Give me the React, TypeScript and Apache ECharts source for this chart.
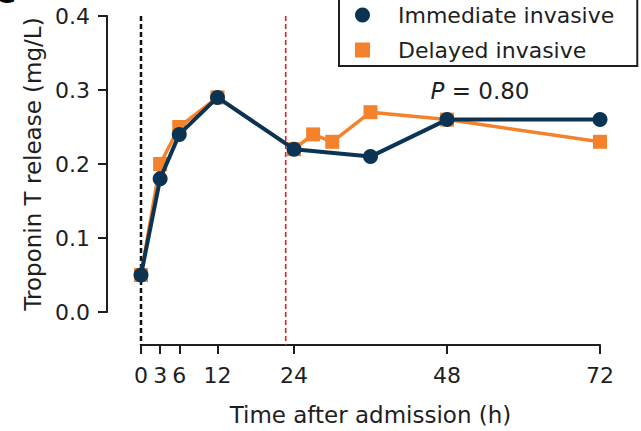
import React, { useEffect, useRef } from 'react';
import * as echarts from 'echarts';

// Sampling times (h) and troponin T (mg/L) per strategy
const immediateHours = [0, 3, 6, 12, 24, 36, 48, 72];
const immediateValues = [0.05, 0.18, 0.24, 0.29, 0.22, 0.21, 0.26, 0.26];
const delayedHours = [0, 3, 6, 12, 24, 27, 30, 36, 48, 72];
const delayedValues = [0.05, 0.2, 0.25, 0.29, 0.22, 0.24, 0.23, 0.27, 0.26, 0.23];

const xTicks = [0, 3, 6, 12, 24, 48, 72];
const yMin = 0;
const yMax = 0.4;
const yStep = 0.1;

const admissionHour = 0;
const delayedProcedureHour = 22.7;
const pValueText = '{i|P} = 0.80';

const NAVY = '#0b3454';
const ORANGE = '#f4822c';
const INK = '#1e1e1e';
const FONT = 'DejaVu Sans';

export default function App() {
  const ref = useRef<HTMLDivElement>(null);

  useEffect(() => {
    const chart = echarts.init(ref.current!, null, { renderer: 'svg' });
    const xAxisOffset = 33;

    chart.setOption({
      animation: false,
      grid: { left: 141, right: 41, top: 16, bottom: 118 },
      legend: {
        data: [
          { name: 'Immediate invasive', icon: 'circle', itemStyle: { color: NAVY } },
          { name: 'Delayed invasive', icon: 'rect', itemStyle: { color: ORANGE } },
        ],
        orient: 'vertical',
        left: 339,
        top: -20,
        padding: [23, 23, 4, 16],
        borderColor: INK,
        borderWidth: 2,
        itemWidth: 15,
        itemHeight: 15,
        itemGap: 11,
        textStyle: {
          fontSize: 22,
          fontFamily: FONT,
          color: INK,
          lineHeight: 24,
          padding: [0, 0, 0, 23],
        },
      },
      xAxis: {
        type: 'value',
        min: 0,
        max: 72,
        offset: xAxisOffset,
        axisLine: { onZero: false, lineStyle: { color: INK, width: 2 } },
        axisTick: { customValues: xTicks, length: 9, lineStyle: { color: INK, width: 2 } },
        axisLabel: { customValues: xTicks, margin: 19, fontSize: 22, fontFamily: FONT, color: INK },
        splitLine: { show: false },
        name: 'Time after admission (h)',
        nameLocation: 'middle',
        nameGap: 58,
        nameTextStyle: { fontSize: 23, fontFamily: FONT, color: INK },
      },
      yAxis: {
        type: 'value',
        min: yMin,
        max: yMax,
        interval: yStep,
        offset: 34,
        axisLine: { show: true, onZero: false, lineStyle: { color: INK, width: 2 } },
        axisTick: { show: true, length: 9, lineStyle: { color: INK, width: 2 } },
        axisLabel: {
          formatter: (v: number) => v.toFixed(1),
          margin: 17,
          fontSize: 22,
          fontFamily: FONT,
          color: INK,
        },
        splitLine: { show: false },
        name: 'Troponin T release (mg/L)',
        nameLocation: 'middle',
        nameGap: 62,
        nameTextStyle: { fontSize: 23, fontFamily: FONT, color: INK },
      },
      series: [
        {
          name: 'Delayed invasive',
          type: 'line',
          z: 20,
          data: delayedHours.map((h, i) => [h, delayedValues[i]]),
          symbol: 'rect',
          symbolSize: 14,
          itemStyle: { color: ORANGE },
          lineStyle: { color: ORANGE, width: 3.5 },
        },
        {
          name: 'Immediate invasive',
          type: 'line',
          z: 21,
          data: immediateHours.map((h, i) => [h, immediateValues[i]]),
          symbol: 'circle',
          symbolSize: 15,
          itemStyle: { color: NAVY },
          lineStyle: { color: NAVY, width: 4 },
        },
      ],
    });

    // Reference lines span from the top of the value axis down to the offset time axis
    const topY = chart.convertToPixel({ yAxisIndex: 0 }, yMax) as number;
    const zeroY = chart.convertToPixel({ yAxisIndex: 0 }, yMin) as number;
    const bottomY = zeroY + xAxisOffset;
    const xAdm = chart.convertToPixel({ xAxisIndex: 0 }, admissionHour) as number;
    const xDelay = chart.convertToPixel({ xAxisIndex: 0 }, delayedProcedureHour) as number;

    chart.setOption({
      graphic: [
        {
          type: 'line',
          z: 10,
          shape: { x1: xAdm, y1: topY, x2: xAdm, y2: bottomY },
          style: { stroke: '#111', lineWidth: 2.5, lineDash: [5, 3] },
        },
        {
          type: 'line',
          z: 10,
          shape: { x1: xDelay, y1: topY, x2: xDelay, y2: bottomY },
          style: { stroke: '#dc2128', lineWidth: 1.6, lineDash: [5, 3] },
        },
        {
          type: 'text',
          x: 480,
          y: 91,
          style: {
            text: pValueText,
            fontSize: 23,
            fontFamily: FONT,
            fill: INK,
            align: 'center',
            verticalAlign: 'middle',
            rich: { i: { fontStyle: 'italic', fontSize: 23, fontFamily: FONT, fill: INK } },
          },
        },
        {
          type: 'text',
          x: -6,
          y: 7,
          style: {
            text: 'C',
            fontSize: 30,
            fontWeight: 'bold',
            fontFamily: FONT,
            fill: '#000',
            verticalAlign: 'bottom',
          },
        },
      ],
    });

    return () => chart.dispose();
  }, []);

  return (
    <div
      ref={ref}
      style={{ position: 'absolute', left: 0, top: 0, width: 641, height: 431, background: '#fff' }}
    />
  );
}
